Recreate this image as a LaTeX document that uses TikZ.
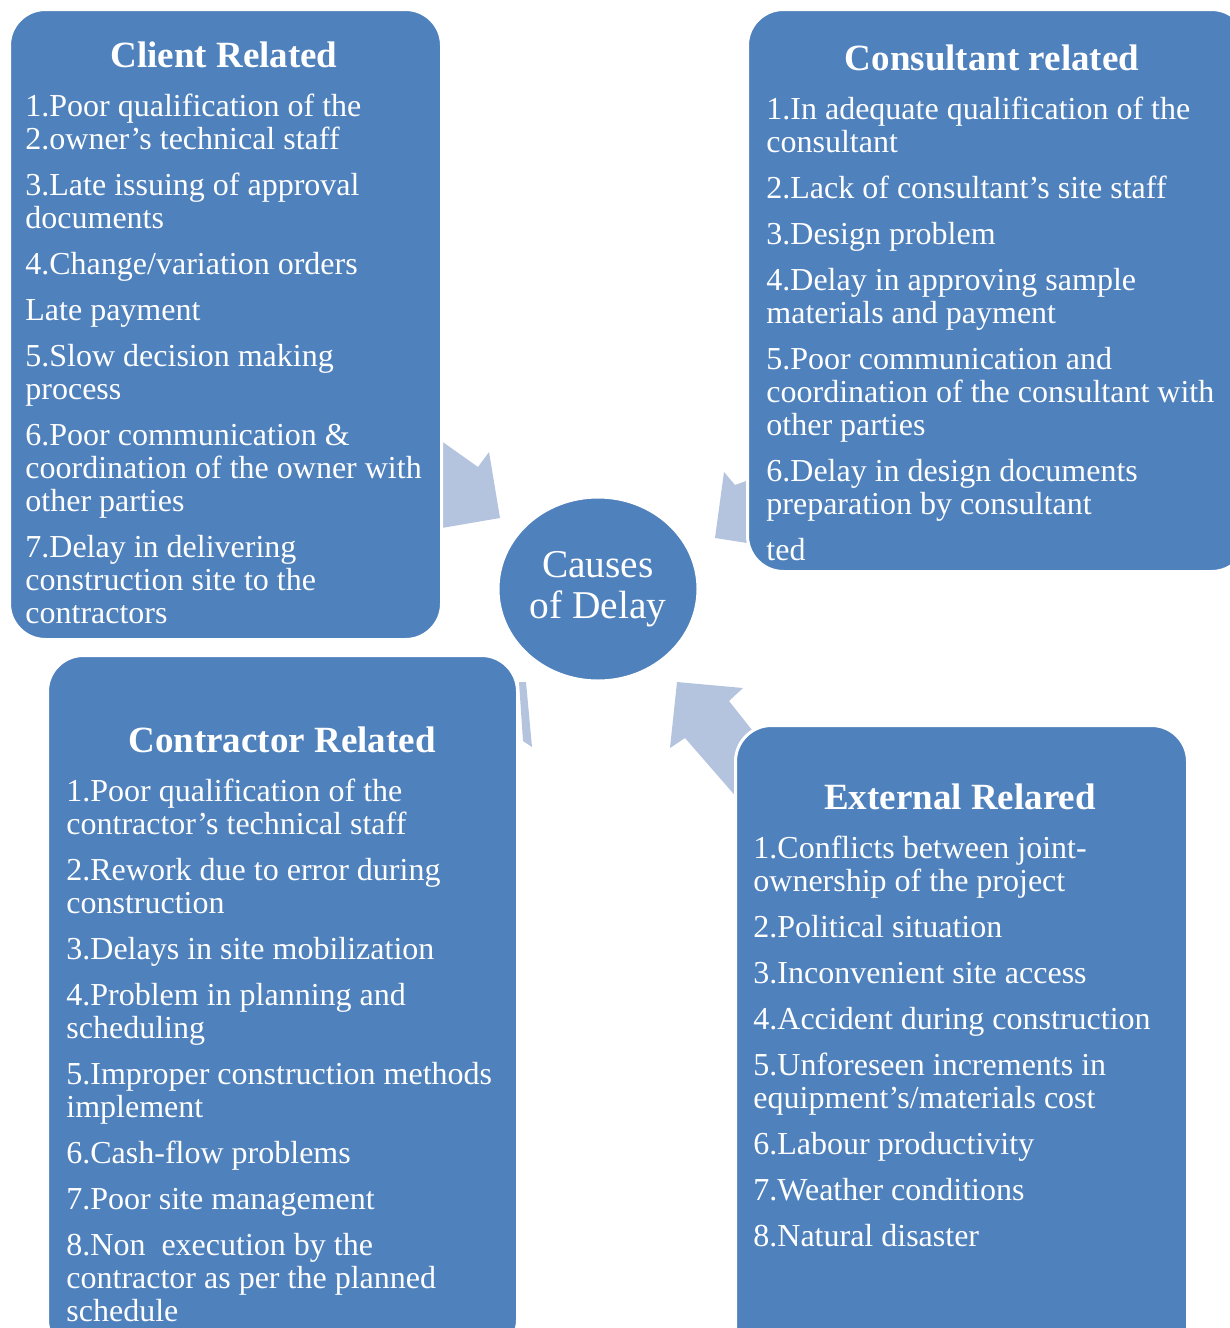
\documentclass[tikz,border=0pt]{standalone}
\usepackage{fontspec}
\setmainfont{Liberation Serif}
\usetikzlibrary{positioning,shapes.geometric}

\definecolor{boxblue}{HTML}{4F81BD}
\definecolor{arrowblue}{HTML}{B4C3DE}

\tikzset{
  causebox/.style={draw=white, line width=1.5pt, fill=boxblue, rounded corners=18pt,
    anchor=north west, inner sep=0pt},
  boxtitle/.style={text=white, inner sep=0pt, font=\fontsize{18.5}{20}\selectfont\bfseries},
  boxlist/.style={text=white, align=left, anchor=north west, inner sep=0pt,
    font=\fontsize{16}{16.5}\selectfont},
  hub/.style={ellipse, draw=white, line width=1.5pt, fill=boxblue, text=white, align=center,
    minimum width=100pt, minimum height=92pt, inner sep=0pt,
    font=\fontsize{19.7}{20.5}\selectfont},
  backarrow/.style={fill=arrowblue}
}

\newcommand{\gap}{\\[6.5pt]}

\begin{document}
\begin{tikzpicture}[x=0.5pt, y=-0.5pt]
  \useasboundingbox (0,0) rectangle (1230,1328);
  \clip (0,0) rectangle (1230,1328);

  % arrows behind the boxes
  \fill[backarrow] (430,433) -- (478,467) -- (489,452) -- (500,518) -- (430,530) -- cycle;
  \fill[backarrow] (724,472) -- (735,485) -- (760,476) -- (760,545) -- (715,538) -- cycle;
  \fill[backarrow] (519,682) -- (526,682) -- (532,747) -- (523,741) -- cycle;
  \fill[backarrow] (677,682) -- (743,688) -- (729,701) -- (752,730) -- (775,759)
    -- (779,846) -- (685,738) -- (670,748) -- cycle;

  % centre
  \node[hub] (delay) at (598,589) {Causes\\of Delay};

  % client
  \node[causebox, minimum width=216pt, minimum height=315pt] (client) at (8,8) {};
  \node[boxtitle] (clienthead) at (224,55) {Client Related};
  \node[boxlist] (clientlist) at (25,94) {%
    1.Poor qualification of the\\2.owner’s technical staff\gap
    3.Late issuing of approval\\documents\gap
    4.Change/variation orders\gap
    Late payment\gap
    5.Slow decision making\\process\gap
    6.Poor communication \&\\coordination of the owner with\\other parties\gap
    7.Delay in delivering\\construction site to the\\contractors};

  % consultant
  \node[causebox, minimum width=250pt, minimum height=281pt] (consultant) at (746,8) {};
  \node[boxtitle] (consultanthead) at (992,58) {Consultant related};
  \node[boxlist] (consultantlist) at (766,97) {%
    1.In adequate qualification of the\\consultant\gap
    2.Lack of consultant’s site staff\gap
    3.Design problem\gap
    4.Delay in approving sample\\materials and payment\gap
    5.Poor communication and\\coordination of the consultant with\\other parties\gap
    6.Delay in design documents\\preparation by consultant\gap
    ted};

  % contractor
  \node[causebox, minimum width=235pt, minimum height=350pt] (contractor) at (46,654) {};
  \node[boxtitle] (contractorhead) at (282,740) {Contractor Related};
  \node[boxlist] (contractorlist) at (66,779) {%
    1.Poor qualification of the\\contractor’s technical staff\gap
    2.Rework due to error during\\construction\gap
    3.Delays in site mobilization\gap
    4.Problem in planning and\\scheduling\gap
    5.Improper construction methods\\implement\gap
    6.Cash-flow problems\gap
    7.Poor site management\gap
    8.Non\ \ execution by the\\contractor as per the planned\\schedule};

  % external
  \node[causebox, minimum width=226pt, minimum height=320pt] (external) at (734,724) {};
  \node[boxtitle] (externalhead) at (960,797) {External Relared};
  \node[boxlist] (externallist) at (753,836) {%
    1.Conflicts between joint-\\ownership of the project\gap
    2.Political situation\gap
    3.Inconvenient site access\gap
    4.Accident during construction\gap
    5.Unforeseen increments in\\equipment’s/materials cost\gap
    6.Labour productivity\gap
    7.Weather conditions\gap
    8.Natural disaster};
\end{tikzpicture}
\end{document}
